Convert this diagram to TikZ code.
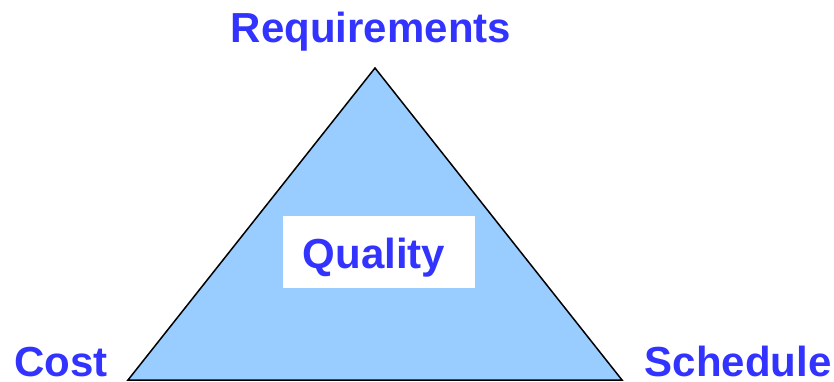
\documentclass[tikz,border=0pt]{standalone}
\usepackage{fontspec}
\setmainfont{Liberation Sans}
\definecolor{labelblue}{HTML}{3333FF}
\definecolor{triblue}{HTML}{99CCFF}
\tikzset{
  corner label/.style={text=labelblue,font=\fontsize{42}{48}\selectfont\bfseries,inner sep=0pt,text depth=0pt,anchor=base},
}
\begin{document}
\begin{tikzpicture}[x=1pt,y=-1pt]
            \useasboundingbox (0,0) rectangle (834,382);
            \coordinate (top) at (375,68);
            \coordinate (left) at (128,380);
            \coordinate (right) at (622,380);

            \draw[fill=triblue,line width=1.5pt,line join=miter] (top) -- (left) -- (right) -- cycle;

            \node[fill=white,minimum width=192pt,minimum height=72pt,inner sep=0pt] (box) at (378.5,251.5) {};
            \node[corner label] (quality) at (374,268) {Quality};

            \node[corner label] (req) at (371,43) {Requirements};
            \node[corner label] (cost) at (61,376) {Cost};
            \node[corner label] (sched) at (738,376) {Schedule};
\end{tikzpicture}
\end{document}
